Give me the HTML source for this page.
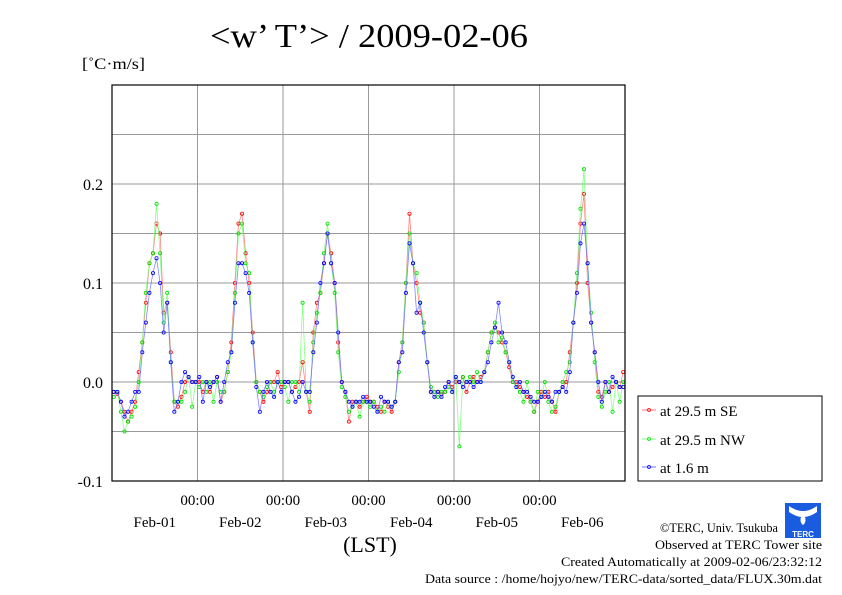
<!DOCTYPE html>
<html><head><meta charset="utf-8"><style>
body{margin:0;background:#fff;}
svg{display:block;font-family:"Liberation Serif",serif;}
</style></head><body>
<svg id="chart" width="842" height="595" viewBox="0 0 842 595" xmlns="http://www.w3.org/2000/svg">
<text x="210" y="47" font-size="34" textLength="318" lengthAdjust="spacingAndGlyphs">&lt;w’ T’&gt; / 2009-02-06</text>
<text x="82" y="69" font-size="16" textLength="63" lengthAdjust="spacingAndGlyphs">[˚C·m/s]</text>
<g id="grid"></g>
<g id="series"></g>
<rect x="112" y="85" width="513" height="396" fill="none" stroke="#000" stroke-width="1.2"/>
<g id="axes"></g>
<text x="370" y="552" font-size="22" text-anchor="middle">(LST)</text>
<g>
<rect x="638" y="396" width="184" height="85" fill="#fff" stroke="#000" stroke-width="1"/>
<g><line x1="642" y1="410" x2="656" y2="410" stroke="#f55" stroke-width="0.8"/><circle cx="649" cy="410" r="1.5" fill="none" stroke="#f00" stroke-width="0.8"/><text x="660" y="416" font-size="15">at 29.5 m SE</text></g>
<g><line x1="642" y1="439" x2="656" y2="439" stroke="#5f5" stroke-width="0.8"/><circle cx="649" cy="439" r="1.5" fill="none" stroke="#0e0" stroke-width="0.8"/><text x="660" y="445" font-size="15">at 29.5 m NW</text></g>
<g><line x1="642" y1="467" x2="656" y2="467" stroke="#55f" stroke-width="0.8"/><circle cx="649" cy="467" r="1.5" fill="none" stroke="#00f" stroke-width="0.8"/><text x="660" y="473" font-size="15">at 1.6 m</text></g>
</g>
<g>
<rect x="785" y="503" width="36" height="35" fill="#1a5ce0"/>
<path d="M789 506 Q803 516 817 506 L817 512 Q803 522 789 512 Z" fill="#fff"/>
<path d="M803 513 Q808 521 803 525 Q798 521 803 513 Z" fill="#fff"/>
<text x="803" y="537" font-size="8" fill="#fff" text-anchor="middle" font-family="Liberation Sans,sans-serif" font-weight="bold">TERC</text>
</g>
<g font-size="13">
<text x="660" y="532" textLength="118" lengthAdjust="spacingAndGlyphs">©TERC, Univ. Tsukuba</text>
<text x="655" y="549" textLength="167" lengthAdjust="spacingAndGlyphs">Observed at TERC Tower site</text>
<text x="561" y="566" textLength="261" lengthAdjust="spacingAndGlyphs">Created Automatically at 2009-02-06/23:32:12</text>
<text x="425" y="583" textLength="397" lengthAdjust="spacingAndGlyphs">Data source : /home/hojyo/new/TERC-data/sorted_data/FLUX.30m.dat</text>
</g>
</svg>
<script>
const yTicks=[-0.1,0.0,0.1,0.2];
const yTickLabels=["-0.1","0.0","0.1","0.2"];
const dayLabels=["Feb-01","Feb-02","Feb-03","Feb-04","Feb-05","Feb-06"];
const midnightLabels=["00:00","00:00","00:00","00:00","00:00"];
const seriesSE=[
-0.01,-0.012,-0.02,-0.03,-0.04,-0.03,-0.02,0.01,0.04,0.08,0.12,0.13,0.16,0.15,0.07,0.08,0.03,-0.02,-0.025,-0.015,0.0,0.005,0.0,0.0,
0.0,-0.01,0.0,-0.01,0.0,0.005,-0.02,-0.01,0.01,0.04,0.1,0.16,0.17,0.13,0.1,0.05,0.0,-0.01,-0.02,-0.01,0.0,0.0,0.01,-0.005,
0.0,0.0,-0.01,-0.005,0.0,0.02,-0.01,-0.03,0.05,0.08,0.09,0.12,0.15,0.13,0.1,0.04,0.0,-0.01,-0.04,-0.02,-0.02,-0.025,-0.02,-0.015,
-0.02,-0.02,-0.025,-0.03,-0.02,-0.025,-0.03,-0.02,0.02,0.04,0.1,0.17,0.12,0.1,0.07,0.06,0.02,-0.01,-0.01,-0.01,-0.012,-0.01,0.0,-0.005,
0.0,0.0,0.005,-0.01,0.0,0.005,0.0,0.005,0.01,0.03,0.05,0.055,0.05,0.04,0.03,0.015,0.0,0.0,-0.005,-0.01,-0.015,-0.02,-0.03,-0.02,
-0.01,-0.015,-0.01,-0.02,-0.03,-0.01,-0.005,0.0,0.03,0.06,0.1,0.16,0.19,0.1,0.06,0.03,-0.01,-0.015,0.0,-0.01,-0.005,0.0,-0.005,0.01];
const seriesNW=[
-0.015,-0.01,-0.03,-0.05,-0.04,-0.035,-0.025,0.0,0.04,0.09,0.12,0.13,0.18,0.13,0.06,0.09,0.02,-0.02,-0.02,-0.02,-0.01,0.005,-0.025,0.0,
-0.005,0.0,-0.01,0.0,-0.02,0.0,-0.01,-0.01,0.01,0.03,0.09,0.15,0.16,0.12,0.11,0.04,0.0,-0.01,-0.015,-0.005,0.0,-0.01,0.0,0.0,
-0.005,-0.02,0.0,0.0,-0.01,0.08,-0.01,-0.02,0.04,0.07,0.09,0.13,0.16,0.12,0.09,0.03,-0.005,-0.015,-0.03,-0.025,-0.02,-0.035,-0.02,-0.02,
-0.025,-0.02,-0.03,-0.025,-0.03,-0.02,-0.025,-0.02,0.01,0.04,0.1,0.15,0.12,0.11,0.08,0.06,0.02,-0.005,-0.01,-0.015,-0.01,-0.01,-0.005,-0.01,
0.005,-0.065,0.005,0.0,0.005,0.0,0.01,0.0,0.01,0.03,0.05,0.06,0.04,0.045,0.03,0.02,0.0,-0.005,-0.01,-0.02,0.0,-0.02,-0.03,-0.01,
-0.015,0.0,-0.02,-0.03,-0.025,-0.01,0.0,0.01,0.02,0.06,0.11,0.175,0.215,0.12,0.07,0.02,-0.015,-0.025,-0.01,0.0,-0.03,0.0,-0.02,0.0];
const series16=[
-0.01,-0.01,-0.02,-0.035,-0.03,-0.02,-0.01,-0.01,0.03,0.06,0.09,0.11,0.125,0.1,0.05,0.08,0.02,-0.03,-0.02,0.0,0.01,0.005,0.0,0.0,
0.005,-0.02,0.0,-0.005,0.0,0.005,-0.02,0.0,0.02,0.03,0.08,0.12,0.12,0.11,0.09,0.04,-0.005,-0.03,-0.01,0.0,-0.01,-0.015,0.0,-0.01,
0.0,0.0,-0.01,-0.02,-0.015,0.0,-0.01,-0.01,0.03,0.06,0.1,0.12,0.15,0.12,0.1,0.05,0.0,-0.01,-0.02,-0.025,-0.02,-0.02,-0.015,-0.02,
-0.02,-0.025,-0.03,-0.015,-0.02,-0.02,-0.025,-0.02,0.02,0.03,0.09,0.14,0.12,0.07,0.08,0.05,0.02,-0.01,-0.015,-0.01,-0.015,-0.005,0.0,-0.01,
0.005,0.0,-0.005,0.0,0.0,-0.005,0.0,0.0,0.01,0.02,0.04,0.055,0.08,0.05,0.04,0.02,0.005,-0.005,0.0,-0.01,-0.01,-0.015,-0.02,-0.02,
-0.015,-0.01,-0.015,-0.02,-0.01,-0.01,-0.005,-0.01,0.01,0.06,0.09,0.14,0.16,0.12,0.06,0.03,0.0,-0.02,0.0,-0.01,0.005,0.0,-0.005,-0.005];

const NS="http://www.w3.org/2000/svg";
const X0=112,X1=625,Y0=481,Y1=85;
const xScale=h=>X0+(h+0.5)/144*(X1-X0);
const xDay=d=>X0+d/6*(X1-X0);
const yScale=v=>Y0-(v+0.1)/0.4*(Y0-Y1);
function mk(tag,attrs,parent){const e=document.createElementNS(NS,tag);for(const k in attrs)e.setAttribute(k,attrs[k]);parent.appendChild(e);return e;}
const grid=document.getElementById('grid'),axes=document.getElementById('axes'),ser=document.getElementById('series');
for(let v=-0.05;v<0.3;v+=0.05){const y=yScale(v);
const l=mk('line',{x1:X0,x2:X1,y1:y,y2:y,stroke:'#999','stroke-width':1},grid);

}
for(let d=1;d<6;d++){const x=xDay(d);
const l=mk('line',{x1:x,x2:x,y1:Y0,y2:Y1,stroke:'#999','stroke-width':1},grid);


const t=mk('text',{x:x,y:505,'font-size':15,'text-anchor':'middle'},axes);t.textContent=midnightLabels[d-1];

}
dayLabels.forEach((lab,i)=>{const t=mk('text',{x:xDay(i+0.5),y:527,'font-size':15,'text-anchor':'middle'},axes);t.textContent=lab;

});
yTicks.forEach((v,i)=>{const t=mk('text',{x:103,y:yScale(v)+6,'font-size':16,'text-anchor':'end'},axes);t.textContent=yTickLabels[i];

});
function draw(data,line,dot,name){
const g=mk('g',{},ser);


const pts=data.map((v,i)=>xScale(i).toFixed(1)+','+yScale(v).toFixed(1)).join(' ');
mk('polyline',{points:pts,fill:'none',stroke:line,'stroke-width':0.8,'stroke-opacity':0.8},g);
data.forEach((v,i)=>{const c=mk('circle',{cx:xScale(i),cy:yScale(v),r:1.6,fill:'none',stroke:dot,'stroke-width':0.8},g);

});}
draw(seriesSE,'#f66','#f00','series-29-5m-se');
draw(seriesNW,'#6f6','#0d0','series-29-5m-nw');
draw(series16,'#66f','#00f','series-1-6m');
</script>
</body></html>
